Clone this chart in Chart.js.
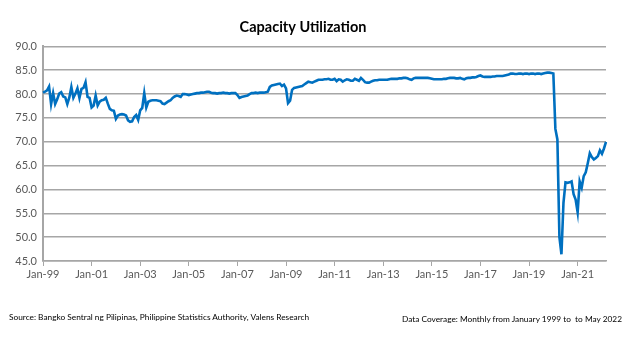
<!DOCTYPE html>
<html>
<head>
<meta charset="utf-8">
<script src="https://cdn.jsdelivr.net/npm/chart.js@4.4.1/dist/chart.umd.min.js"></script>
<style>
  body { margin: 0; background: #fff; }
  #wrap { position: relative; width: 628px; height: 339px; }
  .note { position: absolute; font-family: Lato, "Liberation Sans", sans-serif; font-size: 8.3px; color: #000; white-space: nowrap; }
</style>
</head>
<body>
<div id="wrap">
  <canvas id="cuChart" width="628" height="339"></canvas>
  <div class="note" style="left:9px; top:312px;">Source: Bangko Sentral ng Pilipinas, Philippine Statistics Authority, Valens Research</div>
  <div class="note" style="left:402px; top:314px;">Data Coverage: Monthly from January 1999 to&nbsp; to May 2022</div>
</div>
<script>
// capacity utilization, monthly, Jan 1999 - Mar 2022 (%)
var utilization = [
  80.3, 80.5, 80.8, 81.6, 77.9, 80.2, 77.9, 78.9, 80.1, 80.4, 79.5, 79.3,  // 1999
  77.9, 79.3, 81.5, 79.2, 80.1, 81.2, 79.2, 81.1, 81.3, 82.5, 79.4, 79.2,  // 2000
  77.2, 77.6, 79.7, 77.6, 78.4, 78.7, 78.8, 79.2, 78.0, 76.9, 76.6, 76.5,  // 2001
  74.8, 75.5, 75.7, 75.8, 75.7, 75.5, 74.5, 74.2, 74.3, 75.2, 75.6, 74.6,  // 2002
  76.6, 77.1, 80.2, 77.2, 78.4, 78.6, 78.7, 78.7, 78.7, 78.6, 78.5, 78.0,  // 2003
  77.9, 78.2, 78.5, 78.7, 79.2, 79.5, 79.7, 79.6, 79.4, 80.0, 80.0, 79.9,  // 2004
  79.8, 79.9, 80.0, 80.1, 80.2, 80.2, 80.3, 80.3, 80.4, 80.5, 80.5, 80.3,  // 2005
  80.2, 80.2, 80.1, 80.2, 80.2, 80.3, 80.2, 80.2, 80.1, 80.2, 80.2, 80.2,  // 2006
  79.8, 79.2, 79.4, 79.5, 79.6, 79.7, 80.0, 80.2, 80.2, 80.3, 80.2, 80.3,  // 2007
  80.3, 80.3, 80.4, 80.5, 81.5, 81.8, 81.9, 82.0, 82.1, 82.2, 81.7, 82.0,  // 2008
  81.2, 78.1, 78.6, 80.9, 81.3, 81.4, 81.5, 81.6, 81.7, 82.0, 82.3, 82.6,  // 2009
  82.5, 82.4, 82.6, 82.8, 83.0, 83.0, 83.0, 83.1, 83.1, 83.2, 83.0, 83.0,  // 2010
  83.2, 82.7, 83.1, 83.0, 82.6, 82.9, 83.1, 83.0, 82.8, 82.8, 83.2, 83.0,  // 2011
  82.8, 83.4, 83.0, 82.5, 82.4, 82.4, 82.6, 82.8, 82.9, 82.9, 83.0, 83.0,  // 2012
  83.0, 83.0, 83.0, 83.1, 83.2, 83.2, 83.2, 83.2, 83.3, 83.3, 83.4, 83.4,  // 2013
  83.3, 83.1, 83.0, 83.3, 83.4, 83.4, 83.4, 83.4, 83.4, 83.4, 83.4, 83.3,  // 2014
  83.2, 83.1, 83.1, 83.1, 83.1, 83.1, 83.2, 83.2, 83.3, 83.4, 83.4, 83.4,  // 2015
  83.3, 83.3, 83.4, 83.2, 83.1, 83.3, 83.4, 83.4, 83.5, 83.5, 83.6, 83.8,  // 2016
  83.9, 83.7, 83.6, 83.6, 83.6, 83.6, 83.7, 83.7, 83.8, 83.8, 83.8, 83.8,  // 2017
  83.9, 84.0, 84.1, 84.3, 84.3, 84.2, 84.2, 84.3, 84.3, 84.2, 84.3, 84.3,  // 2018
  84.2, 84.3, 84.3, 84.2, 84.3, 84.3, 84.2, 84.3, 84.4, 84.5, 84.5, 84.4,  // 2019
  84.3, 72.7, 70.5, 50.0, 46.4, 57.2, 61.5, 61.4, 61.5, 61.7, 59.0, 57.9,  // 2020
  55.2, 61.7, 60.4, 62.8, 63.6, 65.5, 67.6, 66.8, 66.3, 66.6, 67.0, 68.2,  // 2021
  67.5, 68.6, 70.0                                                         // 2022
];

var monthNames = ['Jan', 'Feb', 'Mar', 'Apr', 'May', 'Jun', 'Jul', 'Aug', 'Sep', 'Oct', 'Nov', 'Dec'];
var tickLabels = ['Jan-99', 'Jan-01', 'Jan-03', 'Jan-05', 'Jan-07', 'Jan-09',
                  'Jan-11', 'Jan-13', 'Jan-15', 'Jan-17', 'Jan-19', 'Jan-21'];
var yTicks = [45, 50, 55, 60, 65, 70, 75, 80, 85, 90];

var months = [];
for (var i = 0; i < utilization.length; i++) {
    var yr = 1999 + Math.floor(i / 12);
    months.push(monthNames[i % 12] + '-' + String(yr).slice(2));
}

var gridGrey = '#a6a6a6';
var tickFont = { family: 'Lato, "Liberation Sans", sans-serif', size: 11 };

var ctx = document.getElementById('cuChart').getContext('2d');
var cuChart = new Chart(ctx, {
    type: 'line',
    data: {
        labels: months,
        datasets: [{
            data: utilization,
            borderColor: '#0070c0',
            borderWidth: 2.6,
            pointRadius: 0,
            tension: 0,
            fill: false
        }]
    },
    options: {
        responsive: false,
        animation: false,
        layout: { padding: { left: 0, right: 22, top: 0, bottom: 58 } },
        plugins: {
            legend: { display: false },
            tooltip: { enabled: false },
            title: {
                display: true,
                text: 'Capacity Utilization',
                color: '#000',
                font: { family: 'Lato, "Liberation Sans", sans-serif', size: 14.5, weight: 'bold' },
                padding: { top: 19, bottom: 10 }
            }
        },
        scales: {
            x: {
                offset: false,
                afterFit: function (scale) { scale.height = 20; },
                grid: { drawOnChartArea: false, tickLength: 5, color: gridGrey, lineWidth: 1 },
                border: { color: gridGrey, width: 1.5 },
                ticks: {
                    autoSkip: false,
                    maxRotation: 0,
                    padding: 2,
                    color: '#595959',
                    font: tickFont,
                    callback: function (val, idx) {
                        var lbl = months[idx];
                        return tickLabels.indexOf(lbl) >= 0 ? lbl : null;
                    }
                }
            },
            y: {
                min: yTicks[0],
                max: yTicks[yTicks.length - 1],
                afterFit: function (scale) { scale.width = 43; },
                grid: { color: gridGrey, lineWidth: 1.5, drawTicks: false },
                border: { color: gridGrey, width: 2 },
                ticks: {
                    stepSize: 5,
                    padding: 6,
                    color: '#595959',
                    font: tickFont,
                    callback: function (v) { return v.toFixed(1); }
                }
            }
        }
    }
});
</script>
</body>
</html>
